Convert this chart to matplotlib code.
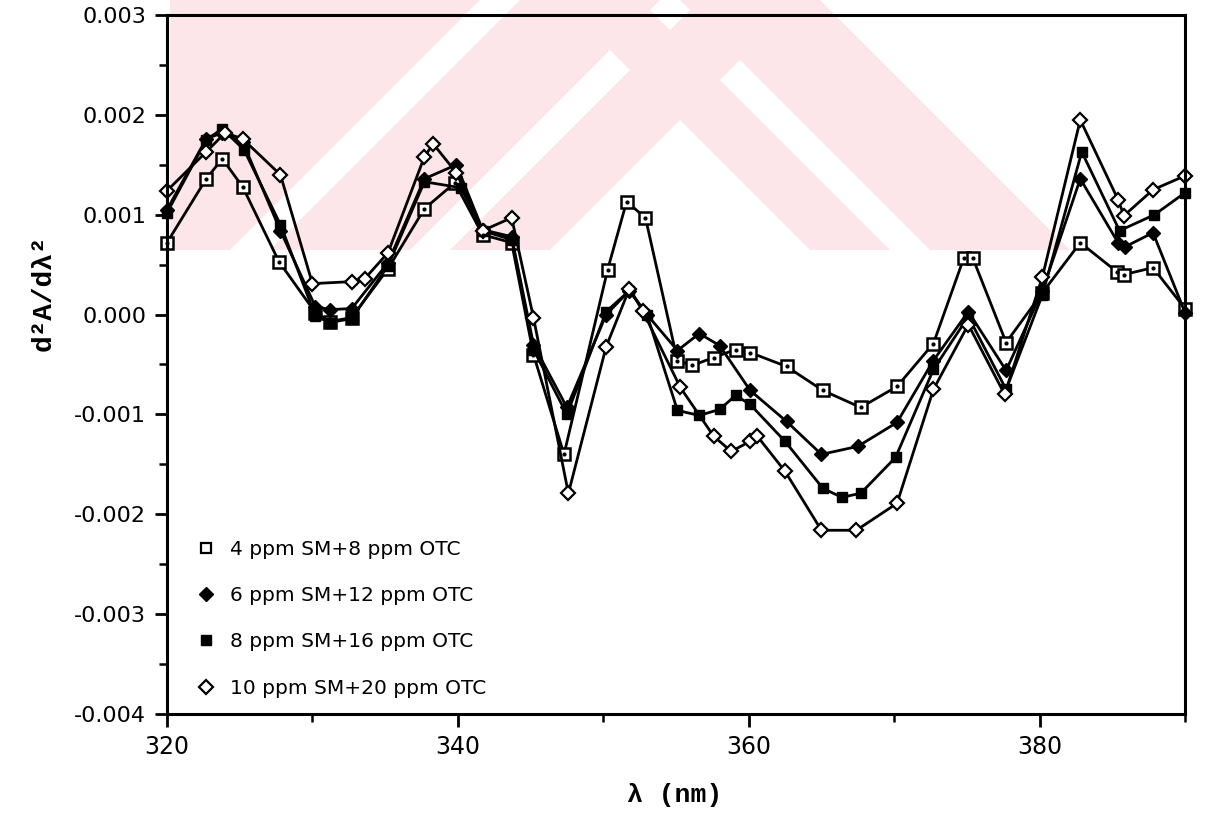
import matplotlib.pyplot as plt
from matplotlib.lines import Line2D
from matplotlib.patches import Polygon, Rectangle
from matplotlib.ticker import MultipleLocator, FormatStrFormatter

plt.rcParams['axes.unicode_minus'] = False

# second-derivative spectra, wavelength (nm) vs d2A/dλ2
x_a = [320, 322.7, 323.8, 325.2, 327.7, 330.2, 331.2, 332.7, 335.2, 337.7, 339.8,
       341.7, 343.7, 345.2, 347.3, 350.3, 351.6, 352.9, 355.1, 356.1, 357.6, 359.1,
       360.1, 362.6, 365.1, 367.7, 370.2, 372.7, 374.8, 375.4, 377.7, 380.2, 382.8,
       385.3, 385.8, 387.8, 390]
y_a = [0.00072, 0.00136, 0.00156, 0.00128, 0.00053, 0.00002, -0.00007, -0.00003,
       0.00046, 0.00106, 0.00132, 0.00080, 0.00072, -0.00040, -0.00140, 0.00045,
       0.00113, 0.00097, -0.00046, -0.00051, -0.00043, -0.00035, -0.00038, -0.00052,
       -0.00076, -0.00093, -0.00072, -0.00029, 0.00057, 0.00057, -0.00028, 0.00022,
       0.00072, 0.00043, 0.00040, 0.00047, 0.00006]

x_b = [320, 322.7, 323.8, 325.2, 327.8, 330.2, 331.2, 332.7, 335.2, 337.7, 339.9,
       341.7, 343.7, 345.2, 347.5, 350.2, 351.8, 353.0, 355.1, 356.6, 358.0, 360.1,
       362.6, 365.0, 367.5, 370.2, 372.7, 375.1, 377.7, 380.2, 382.8, 385.4, 385.9,
       387.8, 390]
y_b = [0.00105, 0.00176, 0.00182, 0.00173, 0.00084, 0.00008, 0.00005, 0.00006,
       0.00052, 0.00136, 0.00150, 0.00085, 0.00078, -0.00030, -0.00093, 0.00000,
       0.00024, 0.00000, -0.00036, -0.00019, -0.00031, -0.00076, -0.00107, -0.00140,
       -0.00132, -0.00108, -0.00046, 0.00003, -0.00056, 0.00024, 0.00136, 0.00072,
       0.00068, 0.00082, 0.00002]

x_c = [320, 322.7, 323.8, 325.3, 327.8, 330.2, 331.2, 332.7, 335.2, 337.7, 340.2,
       341.7, 343.7, 345.2, 347.5, 350.2, 351.8, 353.0, 355.1, 356.6, 358.0, 359.1,
       360.1, 362.5, 365.1, 366.4, 367.7, 370.1, 372.7, 375.1, 377.7, 380.2, 382.9,
       385.5, 387.9, 390]
y_c = [0.00102, 0.00175, 0.00186, 0.00165, 0.00090, -0.00001, -0.00008, -0.00004,
       0.00049, 0.00133, 0.00127, 0.00084, 0.00075, -0.00035, -0.00100, 0.00003,
       0.00024, 0.00000, -0.00096, -0.00101, -0.00095, -0.00081, -0.00090, -0.00127,
       -0.00174, -0.00183, -0.00179, -0.00143, -0.00055, -0.00002, -0.00075, 0.00020,
       0.00163, 0.00084, 0.00100, 0.00122]

x_d = [320, 322.7, 324.0, 325.2, 327.8, 330.0, 332.7, 333.6, 335.2, 337.7, 338.3,
       339.9, 341.7, 343.7, 345.2, 347.6, 350.2, 351.8, 352.7, 355.3, 357.6, 358.8,
       360.1, 360.6, 362.5, 365.0, 367.4, 370.2, 372.7, 375.1, 377.6, 380.2, 382.8,
       385.4, 385.8, 387.8, 390]
y_d = [0.00124, 0.00163, 0.00182, 0.00176, 0.00140, 0.00031, 0.00033, 0.00036,
       0.00062, 0.00158, 0.00171, 0.00142, 0.00084, 0.00097, -0.00003, -0.00179,
       -0.00032, 0.00026, 0.00004, -0.00073, -0.00122, -0.00137, -0.00127, -0.00122,
       -0.00157, -0.00216, -0.00216, -0.00189, -0.00075, -0.00010, -0.00080, 0.00038,
       0.00195, 0.00115, 0.00099, 0.00125, 0.00139]

labels = ['4 ppm SM+8 ppm OTC', '6 ppm SM+12 ppm OTC',
          '8 ppm SM+16 ppm OTC', '10 ppm SM+20 ppm OTC']

W, H = 1207, 836
fig = plt.figure(figsize=(W / 100, H / 100), dpi=100)


def fpt(px, py):
    return (px / W, 1 - py / H)


# faint striped stamp behind the plot
clip = Rectangle(fpt(170, 250), (1075 - 170) / W, 250 / H, transform=fig.transFigure)
pink = '#fde6ea'
for a, b in [(0, 480), (520, 660), (700, 800)]:
    poly = [fpt(a, 0), fpt(b, 0), fpt(b - 400, 400), fpt(a - 400, 400)]
    p = Polygon(poly, closed=True, transform=fig.transFigure, color=pink, lw=0, zorder=-2)
    p.set_clip_path(clip)
    fig.add_artist(p)
for a, b in [(560, 640), (680, 820)]:
    poly = [fpt(a, 0), fpt(b, 0), fpt(b + 400, 400), fpt(a + 400, 400)]
    p = Polygon(poly, closed=True, transform=fig.transFigure, color=pink, lw=0, zorder=-2)
    p.set_clip_path(clip)
    fig.add_artist(p)

ax = fig.add_axes([167 / W, 1 - 714 / H, (1185 - 167) / W, (714 - 15) / H])
ax.set_facecolor('none')

styles = [
    dict(marker='s', ms=9, mfc='white', mec='black', mew=1.8),
    dict(marker='D', ms=7, mfc='black', mec='black', mew=1.0),
    dict(marker='s', ms=6.5, mfc='black', mec='black', mew=1.0),
    dict(marker='D', ms=7, mfc='white', mec='black', mew=1.6),
]
series = [(x_a, y_a), (x_b, y_b), (x_c, y_c), (x_d, y_d)]
for (xs, ys), st in zip(series, styles):
    ax.plot(xs, ys, color='black', lw=2.0, clip_on=False, **st)
# small centre dot of the open squares
ax.plot(x_a, y_a, linestyle='none', marker='o', ms=2, color='black', clip_on=False)

ax.set_xlim(320, 390)
ax.set_ylim(-0.004, 0.003)
ax.xaxis.set_major_locator(MultipleLocator(20))
ax.xaxis.set_minor_locator(MultipleLocator(10))
ax.yaxis.set_major_locator(MultipleLocator(0.001))
ax.yaxis.set_minor_locator(MultipleLocator(0.0005))
ax.yaxis.set_major_formatter(FormatStrFormatter('%.3f'))
ax.set_xticks([320, 340, 360, 380])

for s in ax.spines.values():
    s.set_linewidth(2.2)
ax.tick_params(which='major', direction='out', length=9, width=2, pad=6)
ax.tick_params(which='minor', direction='out', length=6, width=1.8)
ax.tick_params(axis='y', labelsize=16)
for t in ax.get_yticklabels():
    t.set_family('DejaVu Sans')
for t in ax.get_xticklabels():
    t.set_family(['Liberation Sans Narrow', 'DejaVu Sans'])
    t.set_fontsize(17)

handles = [Line2D([], [], color='black', linestyle='none', **st) for st in styles]
handles[0].set_markersize(7)
handles[0].set_markeredgewidth(1.6)
ax.legend(handles, labels, loc='upper left', bbox_to_anchor=fpt(186, 530),
          bbox_transform=fig.transFigure, frameon=False, handlelength=1.0,
          handletextpad=0.7, labelspacing=1.35, borderpad=0, fontsize=14.5)

fig.text(675 / W, 1 - 795 / H, 'λ (nm)', ha='center', va='center',
         fontsize=19, fontweight='bold', family=['Liberation Mono', 'DejaVu Sans Mono'])
fig.text(44 / W, 1 - 293 / H, 'd²A/dλ²', ha='center', va='center', rotation=90,
         fontsize=20, fontweight='bold', family=['Liberation Mono', 'DejaVu Sans Mono'])

fig.savefig('out.png', dpi=100)
